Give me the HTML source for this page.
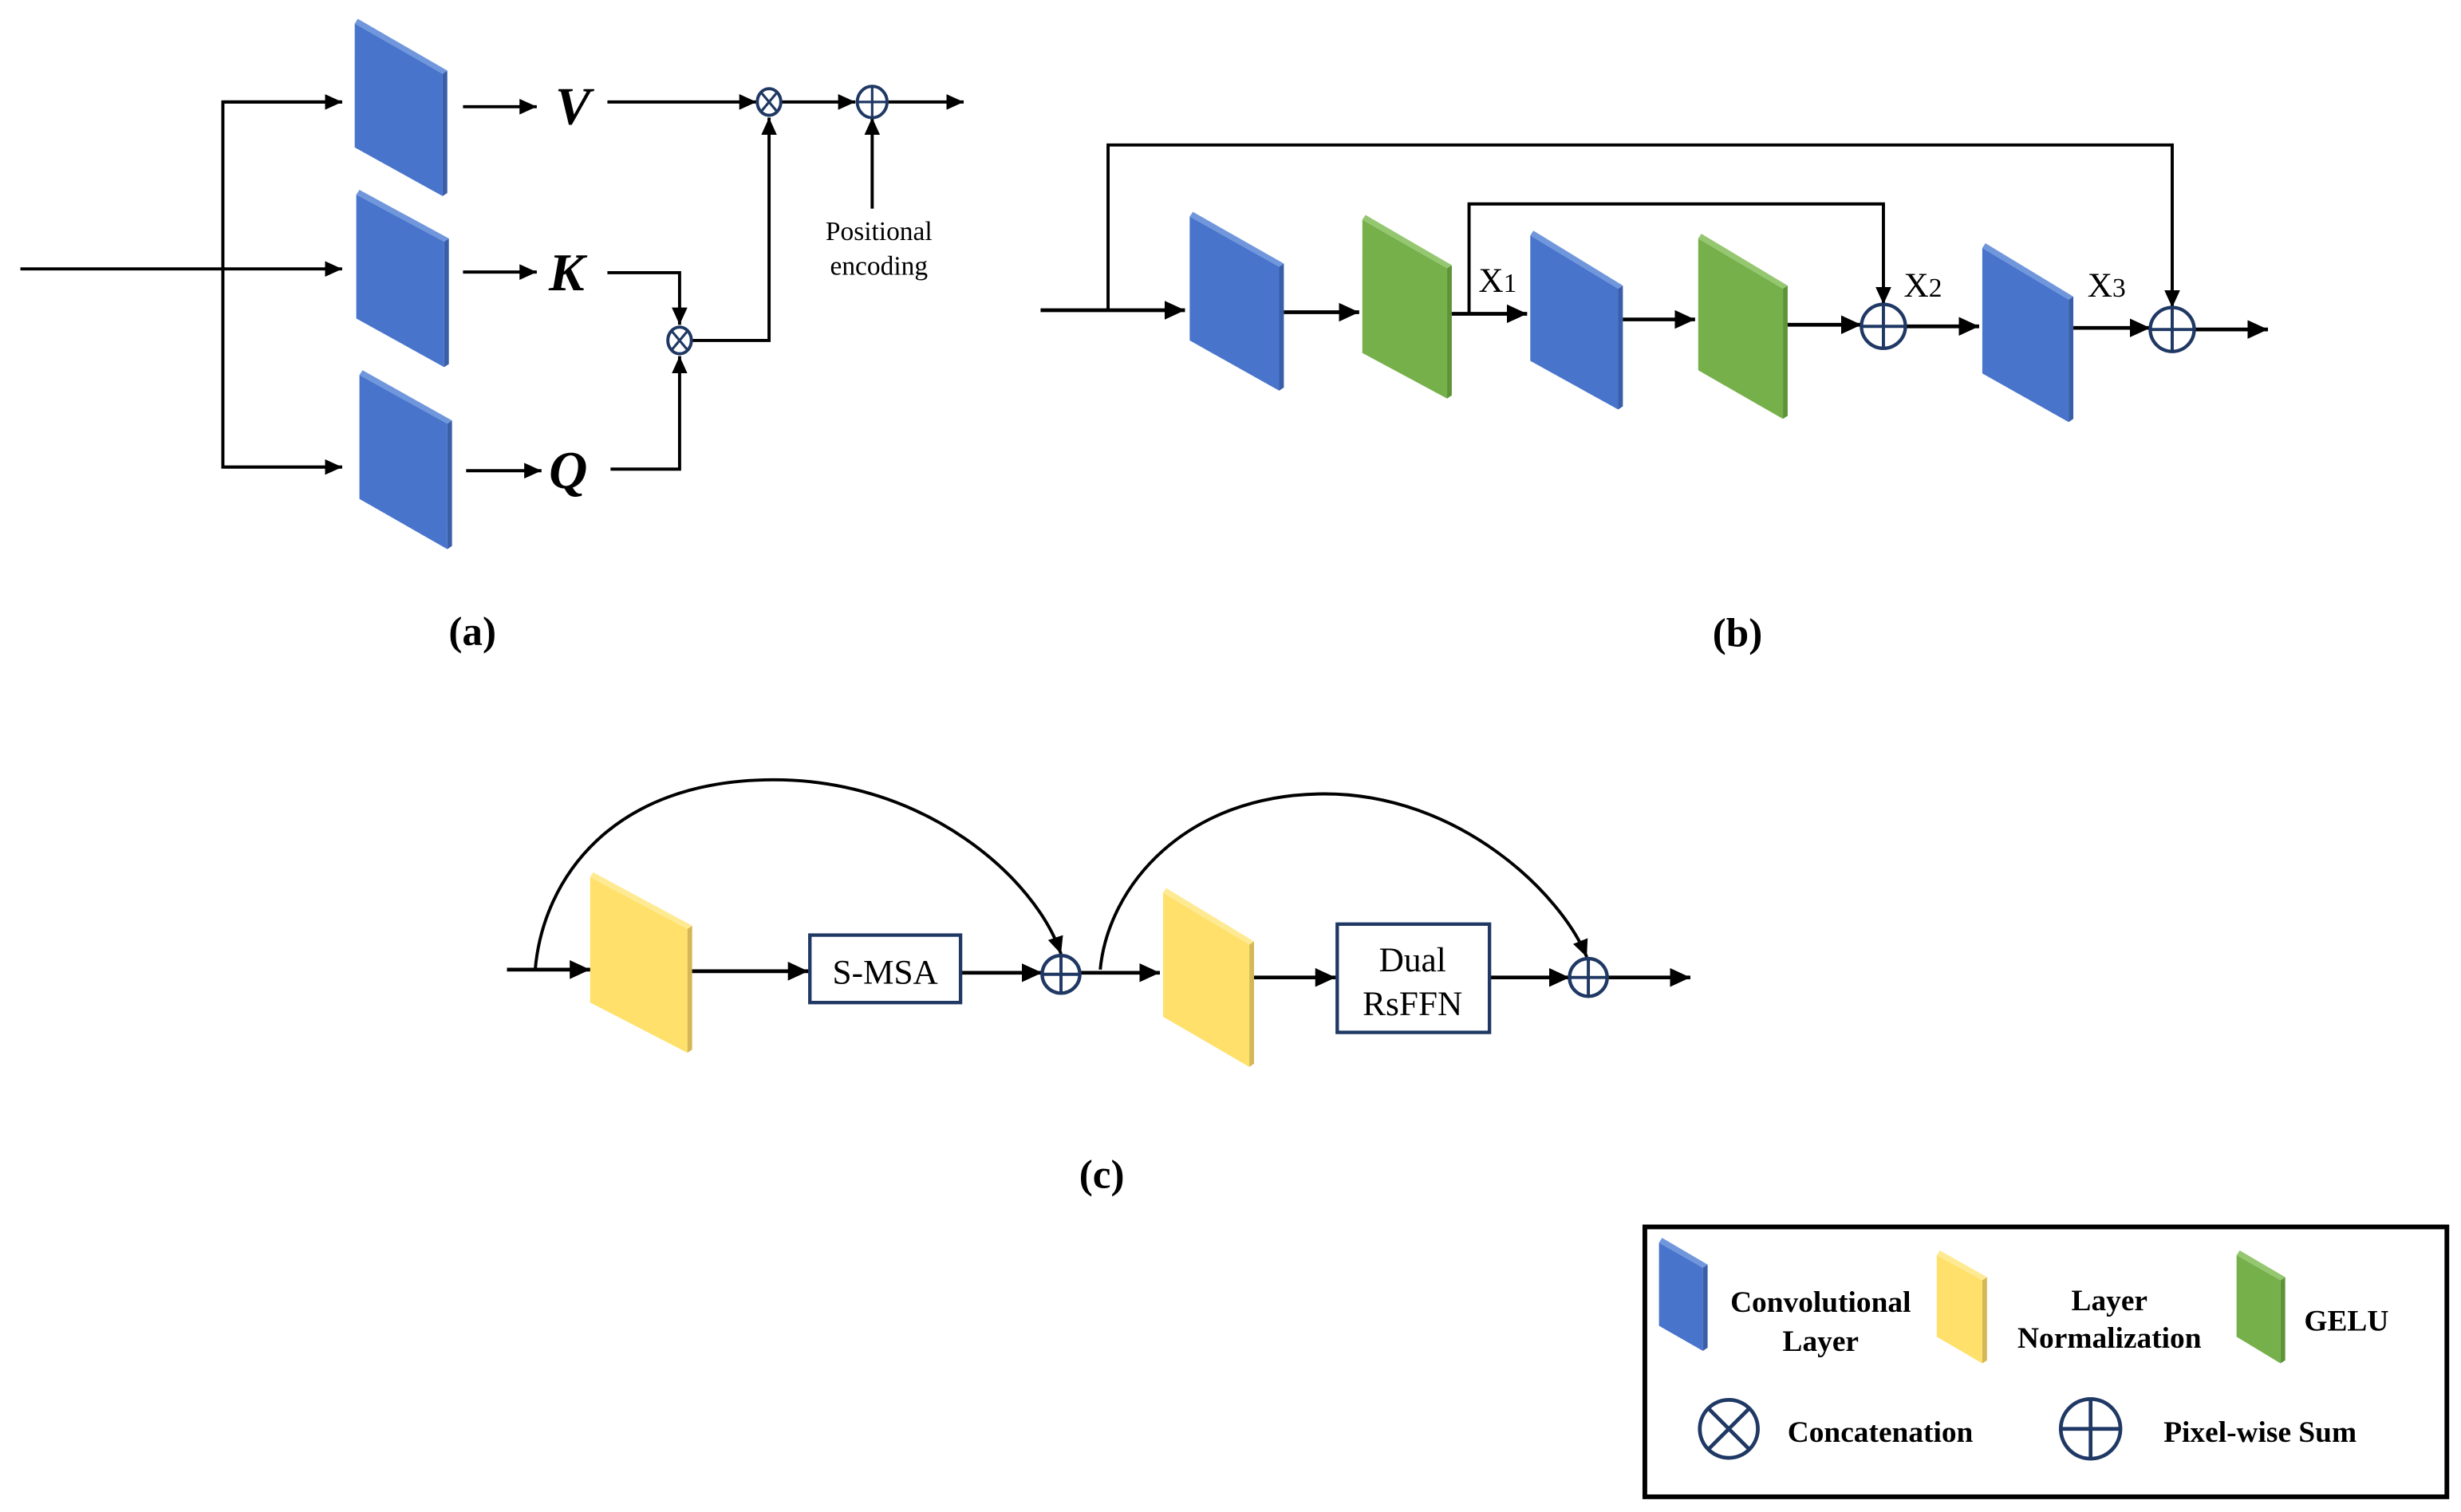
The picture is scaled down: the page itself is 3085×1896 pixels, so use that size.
<!DOCTYPE html>
<html><head><meta charset="utf-8"><style>
html,body{margin:0;padding:0;background:#fff;}
svg{display:block;}
text{font-family:"Liberation Serif",serif;fill:#000;}
</style></head><body>
<svg width="3085" height="1896" viewBox="0 0 1568 963.7" preserveAspectRatio="none" xmlns="http://www.w3.org/2000/svg">
<defs>
<marker id="ar" markerUnits="userSpaceOnUse" markerWidth="12" markerHeight="10" refX="11" refY="5" orient="auto"><path d="M0,0 L11,5 L0,10 z" fill="#000"/></marker>
<marker id="ar2" markerUnits="userSpaceOnUse" markerWidth="14" markerHeight="12" refX="13" refY="6" orient="auto"><path d="M0,0 L13,6 L0,12 z" fill="#000"/></marker>
</defs>
<rect width="1568" height="963.7" fill="#fff"/>

<!-- blocks: blue -->
<g>
<!-- a-V -->
<polygon points="226,15 282,47 282,125 226,94" fill="#4874CB"/><polygon points="282,47 285,45 285,123 282,125" fill="#3A5FA8"/><polygon points="226,15 228,12 285,45 282,47" fill="#7096DC"/>
<!-- a-K -->
<polygon points="227,124 283,154 283,234 227,203" fill="#4874CB"/><polygon points="283,154 286,152 286,232 283,234" fill="#3A5FA8"/><polygon points="227,124 229,121 286,152 283,154" fill="#7096DC"/>
<!-- a-Q -->
<polygon points="229,239 285,270 285,350 229,318" fill="#4874CB"/><polygon points="285,270 288,268 288,348 285,350" fill="#3A5FA8"/><polygon points="229,239 231,236 288,268 285,270" fill="#7096DC"/>
<!-- b1 -->
<polygon points="758,138 815,170 815,249 758,217" fill="#4874CB"/><polygon points="815,170 818,168 818,247 815,249" fill="#3A5FA8"/><polygon points="758,138 760,135 818,168 815,170" fill="#7096DC"/>
<!-- b3 -->
<polygon points="975,150 1031,184 1031,261 975,230" fill="#4874CB"/><polygon points="1031,184 1034,182 1034,259 1031,261" fill="#3A5FA8"/><polygon points="975,150 977,147 1034,182 1031,184" fill="#7096DC"/>
<!-- b5 -->
<polygon points="1263,158 1318,191 1318,269 1263,238" fill="#4874CB"/><polygon points="1318,191 1321,189 1321,267 1318,269" fill="#3A5FA8"/><polygon points="1263,158 1265,155 1321,189 1318,191" fill="#7096DC"/>
<!-- legend blue -->
<polygon points="1057,792 1085,808 1085,861 1057,845" fill="#4874CB"/><polygon points="1085,808 1088,806 1088,859 1085,861" fill="#3A5FA8"/><polygon points="1057,792 1059,789 1088,806 1085,808" fill="#7096DC"/>
</g>
<!-- green -->
<g>
<polygon points="868,140 922,171 922,254 868,225" fill="#76B04A"/><polygon points="922,171 925,169 925,252 922,254" fill="#5E9438"/><polygon points="868,140 870,137 925,169 922,171" fill="#95C670"/>
<polygon points="1082,152 1136,184 1136,267 1082,236" fill="#76B04A"/><polygon points="1136,184 1139,182 1139,265 1136,267" fill="#5E9438"/><polygon points="1082,152 1084,149 1139,182 1136,184" fill="#95C670"/>
<polygon points="1425,800 1453,816 1453,869 1425,852" fill="#76B04A"/><polygon points="1453,816 1456,814 1456,867 1453,869" fill="#5E9438"/><polygon points="1425,800 1427,797 1456,814 1453,816" fill="#95C670"/>
</g>
<!-- yellow -->
<g>
<polygon points="376,559 438,592 438,671 376,639" fill="#FFE06B"/><polygon points="438,592 441,590 441,669 438,671" fill="#D4B856"/><polygon points="376,559 378,556 441,590 438,592" fill="#FFEA94"/>
<polygon points="741,569 796,602 796,680 741,648" fill="#FFE06B"/><polygon points="796,602 799,600 799,678 796,680" fill="#D4B856"/><polygon points="741,569 743,566 799,600 796,602" fill="#FFEA94"/>
<polygon points="1234,800 1263,816 1263,869 1234,852" fill="#FFE06B"/><polygon points="1263,816 1266,814 1266,867 1263,869" fill="#D4B856"/><polygon points="1234,800 1236,797 1266,814 1263,816" fill="#FFEA94"/>
</g>

<!-- (a) connectors -->
<g stroke="#000" stroke-width="2" fill="none">
<line x1="13" y1="171.4" x2="218" y2="171.4" marker-end="url(#ar)"/>
<polyline points="218,65 142,65 142,297.7 218,297.7" />
<line x1="142" y1="65" x2="218" y2="65" marker-end="url(#ar)"/>
<line x1="142" y1="297.7" x2="218" y2="297.7" marker-end="url(#ar)"/>
<line x1="295" y1="68" x2="342" y2="68" marker-end="url(#ar)"/>
<line x1="295" y1="173.4" x2="342" y2="173.4" marker-end="url(#ar)"/>
<line x1="297" y1="300" x2="345" y2="300" marker-end="url(#ar)"/>
<line x1="387" y1="65" x2="482" y2="65" marker-end="url(#ar)"/>
<line x1="498" y1="65" x2="545" y2="65" marker-end="url(#ar)"/>
<line x1="566" y1="65" x2="614" y2="65" marker-end="url(#ar)"/>
<line x1="555.7" y1="133" x2="555.7" y2="75" marker-end="url(#ar)"/>
<polyline points="387,173.8 433,173.8 433,207" marker-end="url(#ar)"/>
<polyline points="389,299 433,299 433,227" marker-end="url(#ar)"/>
<polyline points="441,217 490,217 490,75" marker-end="url(#ar)"/>
</g>
<g stroke="#1F3864" stroke-width="2" fill="#fff">
<ellipse cx="490" cy="65" rx="7.5" ry="8.5"/>
<ellipse cx="433" cy="217" rx="7.5" ry="8.5"/>
<ellipse cx="555.7" cy="65" rx="9.5" ry="10"/>
</g>
<g stroke="#1F3864" stroke-width="1.6">
<line x1="485" y1="59" x2="495" y2="71"/><line x1="495" y1="59" x2="485" y2="71"/>
<line x1="428" y1="211" x2="438" y2="223"/><line x1="438" y1="211" x2="428" y2="223"/>
<line x1="546.2" y1="65" x2="565.2" y2="65"/><line x1="555.7" y1="55" x2="555.7" y2="75"/>
</g>
<g font-weight="bold" font-style="italic" font-size="34" text-anchor="middle">
<text x="365" y="79">V</text>
<text x="361" y="185">K</text>
<text x="362" y="311">Q</text>
</g>
<text x="560" y="153" font-size="17" text-anchor="middle">Positional</text>
<text x="560" y="175" font-size="17" text-anchor="middle">encoding</text>
<text x="301" y="411" font-size="26" font-weight="bold" text-anchor="middle">(a)</text>

<!-- (b) connectors -->
<g stroke="#000" stroke-width="2.4" fill="none">
<line x1="663" y1="197.7" x2="755" y2="197.7" marker-end="url(#ar2)"/>
<line x1="818" y1="199" x2="866" y2="199" marker-end="url(#ar2)"/>
<line x1="925" y1="200" x2="973" y2="200" marker-end="url(#ar2)"/>
<line x1="1034" y1="203.6" x2="1080" y2="203.6" marker-end="url(#ar2)"/>
<line x1="1139" y1="207" x2="1186" y2="207" marker-end="url(#ar2)"/>
<line x1="1214" y1="208" x2="1261" y2="208" marker-end="url(#ar2)"/>
<line x1="1321" y1="209" x2="1370" y2="209" marker-end="url(#ar2)"/>
<line x1="1398" y1="210" x2="1445" y2="210" marker-end="url(#ar2)"/>
</g>
<g stroke="#000" stroke-width="2" fill="none">
<polyline points="706,197.7 706,92.4 1384,92.4 1384,196" marker-end="url(#ar)"/>
<polyline points="936,200 936,130 1200,130 1200,194" marker-end="url(#ar)"/>
</g>
<g stroke="#1F3864" stroke-width="2.2" fill="#fff">
<circle cx="1200" cy="208" r="14"/><circle cx="1384" cy="210" r="14"/>
</g>
<g stroke="#1F3864" stroke-width="2">
<line x1="1186" y1="208" x2="1214" y2="208"/><line x1="1200" y1="194" x2="1200" y2="222"/>
<line x1="1370" y1="210" x2="1398" y2="210"/><line x1="1384" y1="196" x2="1384" y2="224"/>
</g>
<g font-size="22">
<text x="942" y="186">X<tspan font-size="17">1</tspan></text>
<text x="1213" y="189">X<tspan font-size="17">2</tspan></text>
<text x="1330" y="189">X<tspan font-size="17">3</tspan></text>
</g>
<text x="1107" y="412" font-size="26" font-weight="bold" text-anchor="middle">(b)</text>

<!-- (c) connectors -->
<g stroke="#000" stroke-width="2.4" fill="none">
<line x1="323" y1="618" x2="376" y2="618" marker-end="url(#ar2)"/>
<line x1="441" y1="619" x2="515" y2="619" marker-end="url(#ar2)"/>
<line x1="612" y1="620" x2="664" y2="620" marker-end="url(#ar2)"/>
<line x1="688" y1="620" x2="739" y2="620" marker-end="url(#ar2)"/>
<line x1="799" y1="623" x2="851" y2="623" marker-end="url(#ar2)"/>
<line x1="949" y1="623" x2="1000" y2="623" marker-end="url(#ar2)"/>
<line x1="1024" y1="623" x2="1077" y2="623" marker-end="url(#ar2)"/>
</g>
<g stroke="#000" stroke-width="2" fill="none">
<path d="M341,618 C346,560 390,497 493,497 C590,497 660,560 676,608" marker-end="url(#ar)"/>
<path d="M701,618 C706,565 755,506 844,506 C930,506 995,570 1011,610" marker-end="url(#ar)"/>
</g>
<g stroke="#1F3864" stroke-width="2.2" fill="#fff">
<rect x="516" y="596" width="96" height="43"/>
<rect x="852" y="589" width="97" height="69"/>
<circle cx="676" cy="621" r="12"/><circle cx="1012" cy="623" r="12"/>
</g>
<g stroke="#1F3864" stroke-width="2">
<line x1="664" y1="621" x2="688" y2="621"/><line x1="676" y1="609" x2="676" y2="633"/>
<line x1="1000" y1="623" x2="1024" y2="623"/><line x1="1012" y1="611" x2="1012" y2="635"/>
</g>
<g font-size="22" text-anchor="middle">
<text x="564" y="627">S-MSA</text>
<text x="900" y="619">Dual</text>
<text x="900" y="647">RsFFN</text>
</g>
<text x="702" y="757" font-size="26" font-weight="bold" text-anchor="middle">(c)</text>

<!-- legend -->
<rect x="1048" y="782" width="511" height="172" fill="none" stroke="#000" stroke-width="3"/>
<g font-size="19" font-weight="bold" text-anchor="middle">
<text x="1160" y="836">Convolutional</text>
<text x="1160" y="861">Layer</text>
<text x="1344" y="835">Layer</text>
<text x="1344" y="859">Normalization</text>
<text x="1495" y="848">GELU</text>
<text x="1198" y="919">Concatenation</text>
<text x="1440" y="919">Pixel-wise Sum</text>
</g>
<g stroke="#1F3864" stroke-width="2.4" fill="none">
<circle cx="1101.5" cy="910.7" r="18.5"/>
<line x1="1088.5" y1="897.7" x2="1114.5" y2="923.7"/><line x1="1114.5" y1="897.7" x2="1088.5" y2="923.7"/>
<circle cx="1332" cy="910.7" r="19"/>
<line x1="1313" y1="910.7" x2="1351" y2="910.7"/><line x1="1332" y1="891.7" x2="1332" y2="929.7"/>
</g>
</svg>
</body></html>
